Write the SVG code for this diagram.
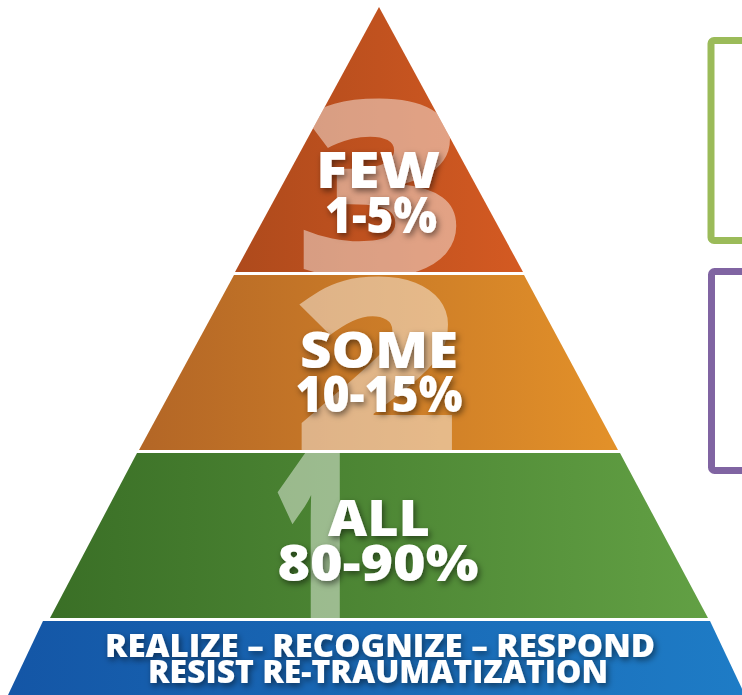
<svg xmlns="http://www.w3.org/2000/svg" width="742" height="695" viewBox="0 0 742 695">
<defs>
<linearGradient id="g1" x1="0" y1="0" x2="1" y2="0"><stop offset="0" stop-color="#AE4A1C"/><stop offset="1" stop-color="#D45A22"/></linearGradient>
<linearGradient id="g2" x1="0" y1="0" x2="1" y2="0"><stop offset="0" stop-color="#B36626"/><stop offset="1" stop-color="#E39129"/></linearGradient>
<linearGradient id="g3" x1="0" y1="0" x2="1" y2="0"><stop offset="0" stop-color="#3A6F26"/><stop offset="1" stop-color="#62A044"/></linearGradient>
<linearGradient id="g4" x1="0" y1="0" x2="1" y2="0"><stop offset="0" stop-color="#1456A6"/><stop offset="1" stop-color="#1E7CC6"/></linearGradient>
<clipPath id="c1"><polygon points="379,7 235,272 523,272"/></clipPath>
<clipPath id="c2"><polygon points="234,275 524,275 618,450 139,450"/></clipPath>
<clipPath id="c3"><polygon points="137,453 620,453 708,618 50,618"/></clipPath>
<filter id="sh" x="-20%" y="-30%" width="140%" height="170%"><feDropShadow dx="2" dy="3" stdDeviation="3" flood-color="#000" flood-opacity="0.5"/></filter>
</defs>
<style>
.lbl{font-family:"Open Sans","DejaVu Sans",sans-serif;font-weight:800;fill:#fff;text-anchor:middle;filter:url(#sh)}
.big{font-family:"Open Sans","DejaVu Sans",sans-serif;font-weight:800;fill:#fff;fill-opacity:0.45;text-anchor:middle}
.bot{font-family:"Open Sans","DejaVu Sans",sans-serif;font-weight:800;font-size:32px;fill:#fff;text-anchor:middle;filter:url(#sh)}
.box{fill:none;stroke-width:7}
</style>
<rect width="742" height="695" fill="#fff"/>
<g id="tier-few">
<polygon points="379,7 235,272 523,272" fill="url(#g1)"/>
<text class="big" x="381" y="276" font-size="245" textLength="175" lengthAdjust="spacingAndGlyphs" clip-path="url(#c1)">3</text>
<text class="lbl" x="378" y="188" font-size="50" textLength="124" lengthAdjust="spacingAndGlyphs">FEW</text>
<text class="lbl" x="381" y="233" font-size="50" textLength="112" lengthAdjust="spacingAndGlyphs">1-5%</text>
</g>
<g id="tier-some">
<polygon points="234,275 524,275 618,450 139,450" fill="url(#g2)"/>
<text class="big" x="378" y="454" font-size="245" textLength="170" lengthAdjust="spacingAndGlyphs" clip-path="url(#c2)">2</text>
<text class="lbl" x="379" y="368" font-size="50" textLength="158" lengthAdjust="spacingAndGlyphs">SOME</text>
<text class="lbl" x="379" y="412" font-size="50" textLength="167" lengthAdjust="spacingAndGlyphs">10-15%</text>
</g>
<g id="tier-all">
<polygon points="137,453 620,453 708,618 50,618" fill="url(#g3)"/>
<text class="big" x="315" y="626" font-size="260" textLength="87" lengthAdjust="spacingAndGlyphs" clip-path="url(#c3)">1</text>
<text class="lbl" x="379" y="536" font-size="50" textLength="102" lengthAdjust="spacingAndGlyphs">ALL</text>
<text class="lbl" x="378" y="581" font-size="50" textLength="201" lengthAdjust="spacingAndGlyphs">80-90%</text>
</g>
<g id="base">
<polygon points="43,621 710,621 745,695 8,695" fill="url(#g4)"/>
<text class="bot" x="380" y="657" textLength="550" lengthAdjust="spacingAndGlyphs">REALIZE – RECOGNIZE – RESPOND</text>
<text class="bot" x="378" y="683" textLength="460" lengthAdjust="spacingAndGlyphs">RESIST RE-TRAUMATIZATION</text>
</g>
<g id="box-green"><rect class="box" x="711" y="40.5" width="60" height="200" rx="3" stroke="#9BBB59"/></g>
<g id="box-purple"><rect class="box" x="711.5" y="271.5" width="60" height="199" rx="3" stroke="#8064A2" stroke-width="6"/></g>
<g id="connectors"></g>
</svg>
